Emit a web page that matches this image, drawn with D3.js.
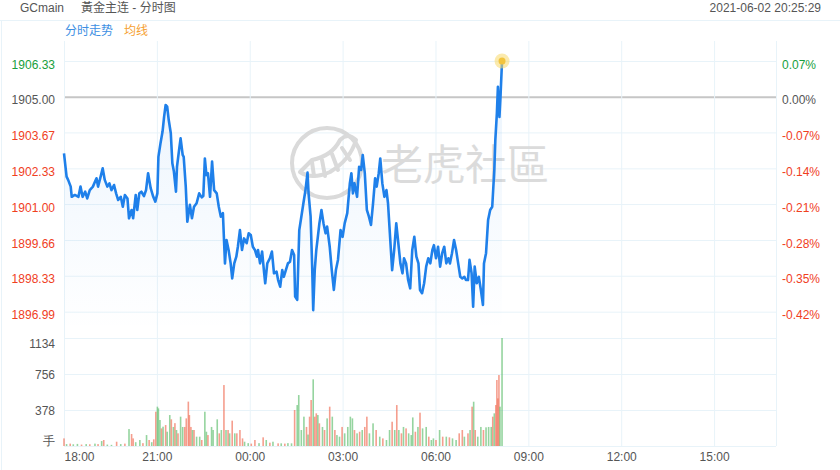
<!DOCTYPE html>
<html>
<head>
<meta charset="utf-8">
<script src="https://cdn.jsdelivr.net/npm/d3@7"></script>
<style>
  body { margin: 0; background: #fff; }
  svg { font-family: Arial, "Liberation Sans", "Noto Sans CJK SC", sans-serif; }
</style>
</head>
<body>
<svg id="chart" width="840" height="470"></svg>
<script>
// header texts
const symbol = "GCmain";
const title = "黃金主连 - 分时图";
const stamp = "2021-06-02 20:25:29";
const tabs = ["分时走势", "均线"];
const watermark = "老虎社區";

// price axis
const prevClose = 1905.00;
const priceTicks = [1906.33, 1905.00, 1903.67, 1902.33, 1901.00, 1899.66, 1898.33, 1896.99];

// volume axis
const volTicks = [0, 378, 756, 1134];
const volTickLabels = ["手", "378", "756", "1134"];

// time axis, minutes after 18:00 session open
const timeTicks = [0, 180, 360, 540, 720, 900, 1080, 1260];
const timeLabels = ["18:00", "21:00", "00:00", "03:00", "06:00", "09:00", "12:00", "15:00"];
const sessionMinutes = 1380;

// price line (minute offset, price)
const lineMinutes = [0,5,8,13,15,21,28,32,36,41,45,50,56,60,63,66,71,75,79,84,88,92,97,101,105,110,114,118,123,126,
  131,134,139,142,146,150,155,159,163,168,173,177,181,183,187,191,194,197,200,203,207,210,213,217,219,223,226,230,232,236,
  239,244,248,252,257,262,267,270,273,276,279,283,287,291,296,300,304,308,312,315,319,323,326,330,334,337,341,345,349,354,
  358,362,366,370,374,376,380,384,388,390,394,399,403,407,412,415,419,423,426,430,434,438,442,446,448,452,456,460,464,468,
  472,474,478,481,483,486,489,492,495,499,503,507,510,515,519,523,527,531,536,540,544,549,554,557,560,563,568,572,576,579,
  583,587,591,595,599,603,606,610,613,617,621,625,628,632,636,640,644,648,652,656,659,663,667,671,675,679,683,687,690,694,
  698,702,706,710,714,717,721,725,729,733,737,741,745,748,752,756,760,764,768,772,776,779,783,786,790,793,796,800,804,808,
  812,814,818,822,826,830,834,836,839,841,844,846,849];
const linePrices = [1902.89,1902.02,1901.90,1901.65,1901.27,1901.34,1901.27,1901.65,1901.27,1901.46,
  1901.21,1901.52,1901.65,1901.83,1901.96,1901.65,1902.02,1902.33,1901.90,1901.65,
  1901.77,1901.52,1901.71,1901.40,1901.15,1901.27,1900.90,1901.34,1901.21,1900.47,
  1900.78,1900.47,1901.34,1900.78,1901.40,1901.46,1901.30,1901.52,1902.15,1901.59,
  1901.27,1901.09,1901.40,1902.76,1903.26,1903.70,1904.25,1904.69,1904.63,1904.13,
  1903.64,1902.52,1902.21,1901.46,1902.39,1903.01,1903.45,1902.83,1902.76,1901.65,
  1900.34,1900.97,1900.47,1900.90,1901.03,1901.40,1901.25,1901.30,1902.70,1902.08,
  1902.15,1901.27,1902.58,1901.52,1901.40,1900.90,1900.53,1900.66,1898.79,1899.66,
  1899.29,1898.79,1898.23,1898.79,1899.04,1899.41,1900.03,1899.29,1899.72,1899.54,
  1899.91,1899.85,1899.41,1899.29,1899.04,1899.29,1898.79,1899.23,1898.42,1898.05,
  1898.79,1898.98,1899.23,1898.42,1898.48,1898.17,1897.92,1898.54,1898.29,1898.54,
  1898.79,1898.85,1899.29,1899.10,1897.55,1897.43,1900.03,1900.53,1901.03,1901.52,
  1902.17,1901.40,1900.53,1898.67,1897.05,1898.54,1899.29,1899.78,1900.28,1900.78,
  1900.28,1899.91,1900.16,1899.41,1898.54,1897.80,1898.54,1898.92,1900.03,1899.78,
  1900.28,1900.66,1901.77,1902.15,1901.40,1901.77,1901.27,1902.39,1902.27,1902.83,
  1902.15,1900.78,1900.53,1900.22,1901.03,1901.96,1901.65,1902.15,1902.70,1901.77,
  1901.27,1901.52,1901.03,1899.78,1898.54,1899.29,1900.28,1899.54,1898.79,1898.42,
  1898.98,1898.79,1898.17,1897.86,1899.29,1899.78,1899.04,1898.79,1897.80,1897.68,
  1898.05,1898.67,1898.98,1898.79,1899.29,1899.47,1898.98,1899.41,1898.67,1899.17,
  1899.41,1898.79,1898.98,1898.79,1899.17,1899.66,1899.29,1898.79,1898.29,1898.23,
  1898.29,1898.17,1898.17,1898.92,1898.42,1897.18,1898.67,1898.05,1898.29,1897.80,
  1897.24,1898.79,1899.17,1900.41,1900.78,1900.90,1902.27,1903.39,1904.38,1905.37,
  1904.25,1905.00,1906.33];

// volume bars (minute offset, lots, side: 1 = up/red, -1 = down/green)
const volMinutes = [0,5,12,18,26,34,43,50,60,66,73,77,84,92,102,110,118,126,131,134,139,147,153,160,165,170,174,178,181,183,
  186,189,192,197,200,205,208,212,215,218,221,226,230,234,237,241,243,246,249,252,257,263,267,273,276,279,286,289,297,301,
  305,310,314,318,321,326,331,335,341,346,350,357,363,370,378,386,392,399,405,415,421,428,434,441,447,452,455,460,465,470,
  473,476,479,483,486,489,492,495,501,505,510,515,520,525,529,534,539,544,550,555,559,563,568,573,578,583,587,592,599,605,
  612,618,625,631,636,641,645,649,654,658,663,668,673,676,681,686,690,695,702,707,712,716,721,728,734,741,747,753,760,766,
  772,776,783,787,791,794,797,802,808,813,818,823,828,831,834,837,839,841,843,845,849];
const volValues = [80,20,25,18,22,15,20,18,25,20,52,63,15,12,45,20,25,178,126,80,40,63,30,115,63,40,70,360,413,395,
  273,185,203,220,150,325,280,200,240,168,133,308,200,200,290,466,325,200,168,168,98,98,63,360,150,115,200,168,280,133,
  168,640,168,168,133,266,133,133,168,80,45,30,25,63,30,91,63,35,45,28,28,25,30,28,378,430,535,168,308,200,
  120,308,483,700,308,343,325,238,200,168,290,413,308,168,115,98,200,133,200,308,290,168,133,150,168,200,308,133,238,168,
  98,80,63,168,255,168,430,168,133,200,185,133,115,300,150,200,350,185,200,98,63,80,63,168,98,98,91,80,63,133,
  168,98,133,168,413,465,168,98,200,168,196,200,200,308,343,430,693,500,745,413,1134];
const volSides = [1,-1,1,-1,-1,1,-1,1,-1,1,-1,1,-1,-1,1,-1,1,-1,1,1,-1,-1,1,-1,1,-1,1,1,-1,-1,
  -1,1,-1,1,-1,-1,1,-1,1,-1,1,-1,-1,1,1,1,1,1,-1,1,-1,-1,1,-1,-1,1,-1,-1,-1,1,
  -1,1,-1,1,-1,1,-1,1,1,1,-1,-1,1,1,-1,1,-1,1,-1,1,-1,1,-1,-1,1,-1,-1,-1,-1,1,
  -1,1,1,-1,1,1,-1,1,-1,1,-1,1,-1,1,-1,-1,1,-1,-1,-1,-1,1,-1,1,-1,1,1,-1,-1,1,
  -1,1,-1,-1,1,-1,1,-1,1,-1,1,-1,-1,-1,1,-1,1,-1,-1,1,-1,-1,1,-1,1,-1,1,-1,-1,1,
  1,-1,1,-1,1,-1,1,-1,-1,1,-1,-1,-1,1,-1,1,1,1,1,-1,-1];

const svg = d3.select("#chart");
const left = 64, right = 776;
const plotTop = 41, priceBottom = 331, volTop = 338, volBottom = 446;

const x = d3.scaleLinear().domain([0, sessionMinutes]).range([left, right]);
const y = d3.scaleLinear().domain([1896.99, 1906.33]).range([311.7, 61]);
const yv = d3.scaleLinear().domain([0, 1134]).range([volBottom, volTop]);

const textColor = "#555";
const gridColor = "#e8f3f9";
const upColor = "#f0401e", downColor = "#18a03c";

// header
svg.append("text").attr("x", 20).attr("y", 12).attr("font-size", 12).attr("fill", textColor).text(symbol);
svg.append("text").attr("x", 81).attr("y", 12).attr("font-size", 12).attr("fill", textColor).text(title);
svg.append("text").attr("x", 821).attr("y", 12).attr("font-size", 12).attr("fill", textColor)
  .attr("text-anchor", "end").text(stamp);
svg.append("line").attr("x1", 0).attr("x2", 840).attr("y1", 20.5).attr("y2", 20.5)
  .attr("stroke", gridColor);
svg.append("line").attr("x1", 1.5).attr("x2", 1.5).attr("y1", 20.5).attr("y2", 470)
  .attr("stroke", gridColor);
svg.append("text").attr("x", 65).attr("y", 35).attr("font-size", 12).attr("fill", "#3d8fe3").text(tabs[0]);
svg.append("text").attr("x", 124).attr("y", 35).attr("font-size", 12).attr("fill", "#f6a131").text(tabs[1]);

// horizontal grid, price panel
const priceGrid = svg.append("g").attr("transform", `translate(${left},0)`)
  .call(d3.axisLeft(y).tickValues(priceTicks).tickSize(-(right - left)).tickFormat(""));
priceGrid.select(".domain").remove();
priceGrid.selectAll(".tick line")
  .attr("stroke", d => d === prevClose ? "#c6c6c6" : gridColor)
  .attr("stroke-width", d => d === prevClose ? 2 : 1);

// horizontal grid, volume panel
const volGrid = svg.append("g").attr("transform", `translate(${left},0)`)
  .call(d3.axisLeft(yv).tickValues(volTicks).tickSize(-(right - left)).tickFormat(""));
volGrid.select(".domain").remove();
volGrid.selectAll(".tick line").attr("stroke", gridColor);

// vertical grid
const vGrid = svg.append("g").attr("transform", `translate(0,${plotTop})`)
  .call(d3.axisTop(x).tickValues(timeTicks.concat([sessionMinutes])).tickSize(-(volBottom - plotTop)).tickFormat(""));
vGrid.select(".domain").remove();
vGrid.selectAll(".tick line").attr("stroke", gridColor);

// watermark
const wm = svg.append("g").attr("opacity", 0.9);
wm.append("circle").attr("cx", 327).attr("cy", 163).attr("r", 35)
  .attr("fill", "none").attr("stroke", "#d6d6d6").attr("stroke-width", 4);
wm.append("path").attr("d", "M300,172 Q312,180 330,172 Q350,160 356,140 Q348,132 340,140 Q332,156 312,160 Z")
  .attr("fill", "none").attr("stroke", "#d6d6d6").attr("stroke-width", 4).attr("stroke-linejoin", "round");
wm.selectAll("line.stripe").data([[312, 162, 314, 176], [322, 160, 325, 176], [332, 154, 338, 170], [342, 148, 350, 160]])
  .enter().append("line")
  .attr("x1", d => d[0]).attr("y1", d => d[1]).attr("x2", d => d[2]).attr("y2", d => d[3])
  .attr("stroke", "#d6d6d6").attr("stroke-width", 4).attr("stroke-linecap", "round");
wm.append("text").attr("x", 381).attr("y", 180).attr("font-size", 42)
  .attr("fill", "#d8d8d8").attr("font-family", "'Noto Sans CJK TC', 'Noto Sans CJK SC', sans-serif")
  .text(watermark);

// price area + line
const series = lineMinutes.map((m, i) => ({ m, p: linePrices[i] }));
const defs = svg.append("defs");
const grad = defs.append("linearGradient").attr("id", "fillGrad")
  .attr("gradientUnits", "userSpaceOnUse")
  .attr("x1", 0).attr("x2", 0).attr("y1", 100).attr("y2", priceBottom);
grad.append("stop").attr("offset", "0%").attr("stop-color", "#1e82e6").attr("stop-opacity", 0.08);
grad.append("stop").attr("offset", "100%").attr("stop-color", "#1e82e6").attr("stop-opacity", 0.0);

svg.append("path").datum(series)
  .attr("fill", "url(#fillGrad)")
  .attr("d", d3.area().x(d => x(d.m)).y0(priceBottom).y1(d => y(d.p)));

svg.append("path").datum(series)
  .attr("fill", "none")
  .attr("stroke", "#1f80ea")
  .attr("stroke-width", 2.6)
  .attr("stroke-linejoin", "round")
  .attr("d", d3.line().x(d => x(d.m)).y(d => y(d.p)));

// last point marker
const last = series[series.length - 1];
svg.append("circle").attr("cx", x(last.m)).attr("cy", y(last.p)).attr("r", 7.5)
  .attr("fill", "#f7d86a").attr("opacity", 0.55);
svg.append("circle").attr("cx", x(last.m)).attr("cy", y(last.p)).attr("r", 3.5)
  .attr("fill", "#f2c43e");

// volume bars
const bars = volMinutes.map((m, i) => ({ m, v: volValues[i], s: volSides[i] }));
svg.append("g").selectAll("rect").data(bars).enter().append("rect")
  .attr("x", d => x(d.m) - 0.8)
  .attr("width", 1.6)
  .attr("y", d => yv(d.v))
  .attr("height", d => yv(0) - yv(d.v))
  .attr("fill", d => d.s > 0 ? "#ef6a52" : "#5cbd6c")
  .attr("opacity", 0.65);

// left price labels
const leftAxis = svg.append("g").attr("transform", `translate(${left - 6},0)`)
  .call(d3.axisLeft(y).tickValues(priceTicks).tickSize(0).tickFormat(d3.format(".2f")));
leftAxis.select(".domain").remove();
leftAxis.selectAll("text")
  .attr("font-size", 12).attr("font-family", null)
  .attr("fill", d => d > prevClose ? downColor : d < prevClose ? upColor : textColor)
  .attr("dy", "0.6em");

// right percent labels
const pct = d => ((d - prevClose) / prevClose * 100).toFixed(2) + "%";
const rightAxis = svg.append("g").attr("transform", `translate(${right + 6},0)`)
  .call(d3.axisRight(y).tickValues(priceTicks).tickSize(0).tickFormat(pct));
rightAxis.select(".domain").remove();
rightAxis.selectAll("text")
  .attr("font-size", 12).attr("font-family", null).attr("x", 0)
  .attr("fill", d => d > prevClose ? downColor : d < prevClose ? upColor : textColor)
  .attr("dy", "0.6em");

// volume labels
const volAxis = svg.append("g").attr("transform", `translate(${left - 6},0)`)
  .call(d3.axisLeft(yv).tickValues(volTicks).tickSize(0).tickFormat((d, i) => volTickLabels[i]));
volAxis.select(".domain").remove();
volAxis.selectAll("text")
  .attr("font-size", 12).attr("font-family", null).attr("fill", textColor)
  .attr("dy", d => d === 1134 ? "0.75em" : d === 0 ? "-0.1em" : "0.35em");

// time labels
const timeAxis = svg.append("g").attr("transform", `translate(0,${volBottom + 3})`)
  .call(d3.axisBottom(x).tickValues(timeTicks).tickSize(0).tickFormat((d, i) => timeLabels[i]));
timeAxis.select(".domain").remove();
timeAxis.selectAll("text")
  .attr("font-size", 12).attr("font-family", null).attr("fill", textColor)
  .attr("text-anchor", (d, i) => i === 0 ? "start" : "middle");
</script>
</body>
</html>
